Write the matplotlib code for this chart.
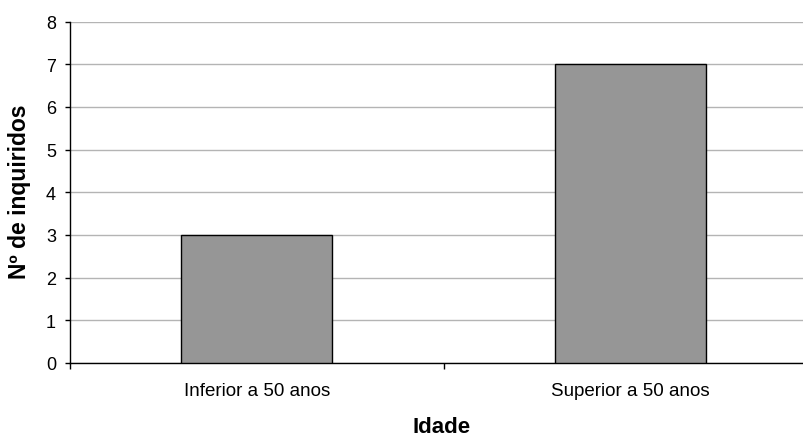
import matplotlib
matplotlib.use("Agg")
import matplotlib.pyplot as plt
from matplotlib.ticker import FixedLocator

# data
categories = ["Inferior a 50 anos", "Superior a 50 anos"]
counts = [3, 7]
yticks = [0, 1, 2, 3, 4, 5, 6, 7, 8]

plt.rcParams["font.family"] = ["Liberation Sans", "DejaVu Sans"]

fig = plt.figure(figsize=(8.04, 4.39), dpi=100)
# the plot area runs past the right edge of the picture, as in the original
ax = fig.add_axes([70 / 804, 75 / 439, 747 / 804, 341.5 / 439])

xpos = list(range(len(categories)))
ax.bar(xpos, counts, width=0.405, color="#969696", edgecolor="black",
       linewidth=1.0, zorder=3)

ax.set_xlim(-0.5, 1.5)
ax.set_ylim(0, 8)
ax.set_yticks(yticks)
ax.yaxis.grid(True, color="#b4b4b4", linewidth=1.0, zorder=0)
ax.set_axisbelow(True)

ax.set_xticks(xpos)
ax.set_xticklabels(categories, fontsize=13.5)
ax.xaxis.set_minor_locator(FixedLocator([-0.5, 0.5, 1.5]))
ax.tick_params(axis="x", which="major", length=0, pad=14)
ax.tick_params(axis="x", which="minor", length=4, direction="out", width=1)
ax.tick_params(axis="y", length=3.6, direction="out", width=1, labelsize=13, pad=6.5)

for side in ("top", "right"):
    ax.spines[side].set_visible(False)
for side in ("left", "bottom"):
    ax.spines[side].set_color("black")
    ax.spines[side].set_linewidth(1.0)

fig.text(20 / 804, 1 - 192 / 439, "Nº de inquiridos", fontsize=16.5,
         fontweight="bold", rotation=90, ha="center", va="center")
fig.text(442 / 804, 1 - 433.5 / 439, "Idade", fontsize=16, fontweight="bold",
         ha="center", va="baseline")

fig.savefig("out.png", dpi=100)
